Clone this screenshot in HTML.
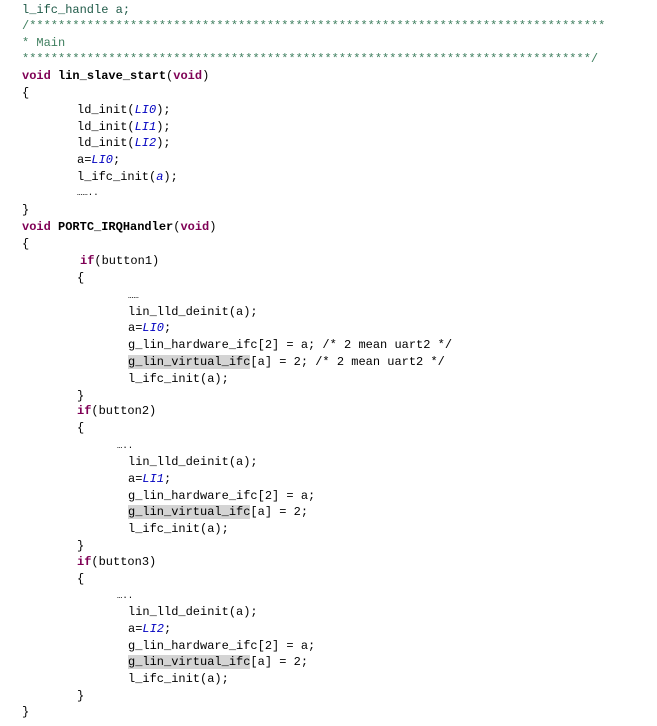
<!DOCTYPE html>
<html><head><meta charset="utf-8"><style>
html,body{margin:0;padding:0;background:#fff;width:657px;height:726px;overflow:hidden}
.l{position:absolute;font-family:"Liberation Mono","DejaVu Sans Mono",monospace;font-size:12px;line-height:16px;height:16px;white-space:pre;color:#000}
.k{color:#7f0055;font-weight:bold}
.c{color:#3f7f5f}
.b{color:#0000c0;font-style:italic}
.h{background:#d4d4d4}
.g{color:#1f5a48}
</style></head><body>
<div class="l g" style="left:22px;top:2px">l_ifc_handle a;</div>
<div class="l c" style="left:22px;top:18px">/********************************************************************************</div>
<div class="l c" style="left:22px;top:35px">* Main</div>
<div class="l c" style="left:22px;top:51px">*******************************************************************************/</div>
<div class="l" style="left:22px;top:68px"><span class="k">void</span> <b>lin_slave_start</b>(<span class="k">void</span>)</div>
<div class="l" style="left:22px;top:85px">{</div>
<div class="l" style="left:77px;top:102px">ld_init(<span class="b">LI0</span>);</div>
<div class="l" style="left:77px;top:119px">ld_init(<span class="b">LI1</span>);</div>
<div class="l" style="left:77px;top:135px">ld_init(<span class="b">LI2</span>);</div>
<div class="l" style="left:77px;top:152px">a=<span class="b">LI0</span>;</div>
<div class="l" style="left:77px;top:169px">l_ifc_init(<span class="b">a</span>);</div>
<div class="l" style="left:77px;top:185px;font-size:9px">……..</div>
<div class="l" style="left:22px;top:202px">}</div>
<div class="l" style="left:22px;top:219px"><span class="k">void</span> <b>PORTC_IRQHandler</b>(<span class="k">void</span>)</div>
<div class="l" style="left:22px;top:236px">{</div>
<div class="l" style="left:80px;top:253px"><span class="k">if</span>(button1)</div>
<div class="l" style="left:77px;top:270px">{</div>
<div class="l" style="left:128px;top:288px;font-size:9px">……</div>
<div class="l" style="left:128px;top:304px">lin_lld_deinit(a);</div>
<div class="l" style="left:128px;top:320px">a=<span class="b">LI0</span>;</div>
<div class="l" style="left:128px;top:337px">g_lin_hardware_ifc[2] = a; /* 2 mean uart2 */</div>
<div class="l" style="left:128px;top:354px"><span class="h">g_lin_virtual_ifc</span>[a] = 2; /* 2 mean uart2 */</div>
<div class="l" style="left:128px;top:371px">l_ifc_init(a);</div>
<div class="l" style="left:77px;top:388px">}</div>
<div class="l" style="left:77px;top:403px"><span class="k">if</span>(button2)</div>
<div class="l" style="left:77px;top:420px">{</div>
<div class="l" style="left:117px;top:438px;font-size:9px">…..</div>
<div class="l" style="left:128px;top:454px">lin_lld_deinit(a);</div>
<div class="l" style="left:128px;top:471px">a=<span class="b">LI1</span>;</div>
<div class="l" style="left:128px;top:488px">g_lin_hardware_ifc[2] = a;</div>
<div class="l" style="left:128px;top:504px"><span class="h">g_lin_virtual_ifc</span>[a] = 2;</div>
<div class="l" style="left:128px;top:521px">l_ifc_init(a);</div>
<div class="l" style="left:77px;top:538px">}</div>
<div class="l" style="left:77px;top:554px"><span class="k">if</span>(button3)</div>
<div class="l" style="left:77px;top:571px">{</div>
<div class="l" style="left:117px;top:588px;font-size:9px">…..</div>
<div class="l" style="left:128px;top:604px">lin_lld_deinit(a);</div>
<div class="l" style="left:128px;top:621px">a=<span class="b">LI2</span>;</div>
<div class="l" style="left:128px;top:638px">g_lin_hardware_ifc[2] = a;</div>
<div class="l" style="left:128px;top:654px"><span class="h">g_lin_virtual_ifc</span>[a] = 2;</div>
<div class="l" style="left:128px;top:671px">l_ifc_init(a);</div>
<div class="l" style="left:77px;top:688px">}</div>
<div class="l" style="left:22px;top:704px">}</div>
</body></html>
